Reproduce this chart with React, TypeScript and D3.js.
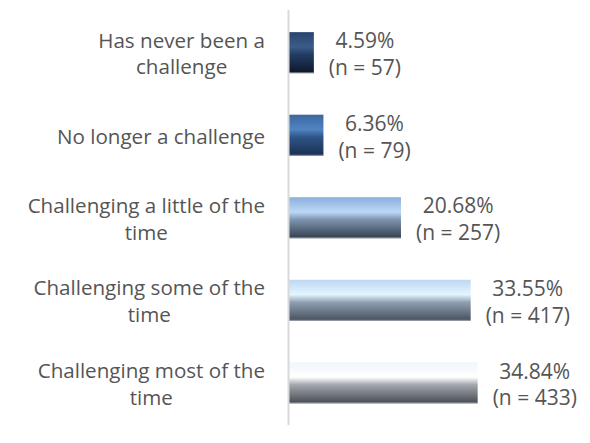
import React from "react";
import * as d3 from "d3";

const categoryLines: string[][] = [
  ["Has never been a", "challenge"],
  ["No longer a challenge"],
  ["Challenging a little of the", "time"],
  ["Challenging some of the", "time"],
  ["Challenging most of the", "time"],
];
const categories = categoryLines.map((l) => l.join(" "));
const percents = [4.59, 6.36, 20.68, 33.55, 34.84];
const counts = [57, 79, 257, 417, 433];

// gradient stops per bar: top, highlight, mid, bottom
const barGradients: string[][] = [
  ["#28446d", "#3b5c88", "#223c62", "#0c172a"],
  ["#3c68a0", "#5084c2", "#2f5487", "#1a2f50"],
  ["#8aaedb", "#bcd8f7", "#7d93ae", "#333f4e"],
  ["#bdd6f2", "#e3f5ff", "#8f9fb0", "#464f5c"],
  ["#eef6fd", "#ffffff", "#a2a7ad", "#474a51"],
];

const W = 590;
const H = 443;
const FONT = "Open Sans";
const FS = 20.6;
const DFS = 21;
const LH = 26.6;
const TEXT = "#555555";

let ctx: CanvasRenderingContext2D | null = null;
function measure(t: string, fs: number): number {
  if (!ctx) ctx = document.createElement("canvas").getContext("2d");
  if (!ctx) return t.length * fs * 0.5;
  ctx.font = `${fs}px "${FONT}"`;
  return ctx.measureText(t).width;
}

export default function App() {
  const x = d3.scaleLinear().domain([0, 40]).range([289, 289 + 216.6]);
  const y = d3
    .scaleBand<string>()
    .domain(categories)
    .range([11.5, 424])
    .paddingInner(0.503)
    .paddingOuter(0.25);
  const bw = y.bandwidth();

  return (
    <div style={{ position: "absolute", left: 0, top: 0 }}>
      <svg width={W} height={H} style={{ display: "block", background: "#fff" }}>
        <defs>
          {barGradients.map((g, i) => (
            <linearGradient key={i} id={`g${i}`} x1="0" y1="0" x2="0" y2="1">
              <stop offset="0" stopColor={g[0]} />
              <stop offset="0.36" stopColor={g[1]} />
              <stop offset="0.55" stopColor={g[2]} />
              <stop offset="1" stopColor={g[3]} />
            </linearGradient>
          ))}
        </defs>
        {categories.map((c, i) => {
          const y0 = y(c)!;
          const cy = y0 + bw / 2;
          const x1 = x(percents[i]);
          const lines = categoryLines[i];
          const maxW = d3.max(lines, (l) => measure(l, FS)) || 0;
          const lcx = 265 - maxW / 2;
          const dl = [`${percents[i].toFixed(2)}%`, `(n = ${counts[i]})`];
          const dW = d3.max(dl, (l) => measure(l, DFS)) || 0;
          const dcx = x1 + 15 + dW / 2;
          const n = lines.length;
          return (
            <g key={c}>
              <rect x={x(0)} y={y0} width={x1 - x(0)} height={bw} fill={`url(#g${i})`} />
              <line x1={x(0)} x2={x1} y1={y0 + bw - 0.5} y2={y0 + bw - 0.5} stroke="#b8bec6" strokeWidth={1} opacity={0.6} />
              <text fontFamily={FONT} fontSize={FS} fill={TEXT} textAnchor="middle">
                {lines.map((l, j) => (
                  <tspan key={j} x={lcx} y={cy + (j - (n - 1) / 2) * LH + 8.5}>
                    {l}
                  </tspan>
                ))}
              </text>
              <text fontFamily={FONT} fontSize={DFS} fill={TEXT} textAnchor="middle">
                {dl.map((l, j) => (
                  <tspan key={j} x={dcx} y={cy + (j - 0.5) * LH + 9}>
                    {l}
                  </tspan>
                ))}
              </text>
            </g>
          );
        })}
        <line x1={288.5} x2={288.5} y1={10} y2={425} stroke="#d9d9d9" strokeWidth={2} />
      </svg>
    </div>
  );
}
